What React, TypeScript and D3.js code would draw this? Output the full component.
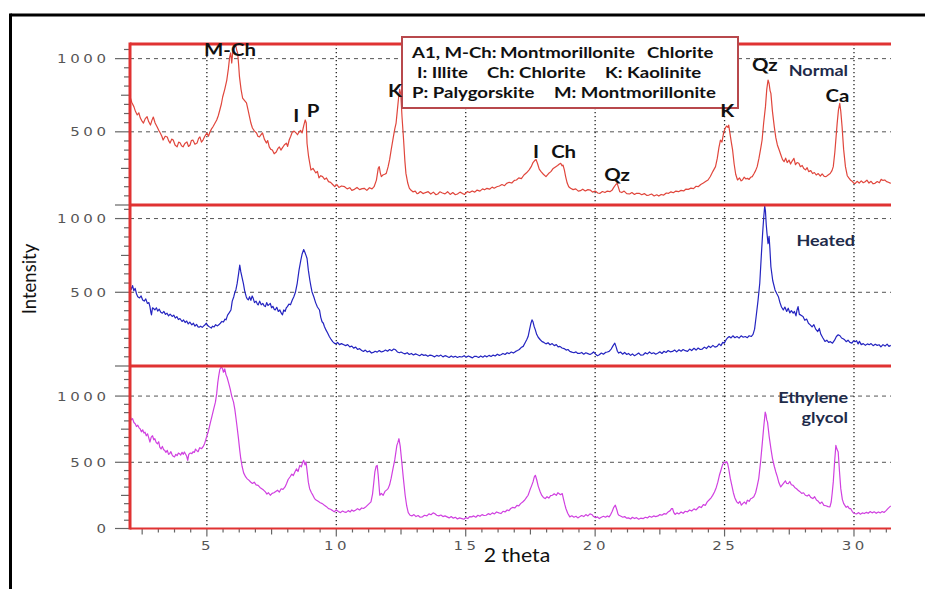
import React from 'react';
import * as d3 from 'd3';

const W = 925;
const H = 589;

// 2-theta range shown on the x axis
const thetaRange: [number, number] = [2.03, 31.43];
const thetaTicks = [5, 10, 15, 20, 25, 30];

// [2 theta, intensity]
const normal: [number, number][] = [
  [2.03, 740], [2.1, 700], [2.18, 672], [2.24, 640], [2.31, 615], [2.37, 630], [2.43, 594], [2.49, 575], [2.55, 560], [2.62, 590],
  [2.69, 603], [2.75, 570], [2.82, 546], [2.88, 580], [2.93, 601], [3.0, 560], [3.08, 533], [3.14, 510], [3.2, 492], [3.26, 470],
  [3.31, 444], [3.39, 470], [3.47, 465], [3.52, 440], [3.58, 423], [3.64, 450], [3.7, 444], [3.77, 410], [3.85, 397], [3.91, 430],
  [3.97, 423], [4.02, 405], [4.08, 397], [4.15, 420], [4.23, 431], [4.29, 400], [4.35, 410], [4.4, 440], [4.46, 444], [4.54, 415],
  [4.62, 423], [4.68, 455], [4.73, 465], [4.79, 430], [4.85, 444], [4.92, 470], [5.0, 492], [5.06, 470], [5.12, 499], [5.18, 520],
  [5.23, 533], [5.3, 555], [5.38, 581], [5.44, 610], [5.5, 649], [5.56, 690], [5.61, 738], [5.69, 790], [5.77, 854], [5.83, 930],
  [5.88, 1011], [5.92, 1040], [5.96, 970], [6.0, 1045], [6.04, 1090], [6.07, 1080], [6.11, 1095], [6.15, 1059], [6.19, 1038], [6.23, 950],
  [6.26, 875], [6.32, 790], [6.38, 731], [6.45, 715], [6.53, 697], [6.59, 650], [6.65, 601], [6.7, 560], [6.76, 526], [6.84, 505],
  [6.92, 492], [6.97, 470], [7.03, 465], [7.09, 480], [7.15, 492], [7.22, 450], [7.3, 423], [7.35, 440], [7.41, 397], [7.47, 380],
  [7.53, 376], [7.6, 350], [7.68, 362], [7.74, 385], [7.8, 397], [7.86, 375], [7.91, 389], [7.99, 410], [8.07, 423], [8.12, 400],
  [8.18, 444], [8.24, 470], [8.3, 499], [8.37, 505], [8.45, 492], [8.5, 480], [8.56, 499], [8.62, 510], [8.68, 492], [8.74, 540],
  [8.8, 581], [8.84, 560], [8.87, 420], [8.93, 330], [9.02, 239], [9.1, 250], [9.21, 219], [9.27, 230], [9.33, 185], [9.4, 200],
  [9.47, 194], [9.55, 175], [9.62, 185], [9.7, 160], [9.78, 155], [9.86, 140], [9.94, 125], [10.02, 140], [10.1, 120], [10.2, 130],
  [10.32, 125], [10.42, 110], [10.52, 118], [10.6, 100], [10.7, 107], [10.8, 120], [10.9, 105], [11.0, 112], [11.08, 114], [11.18, 100],
  [11.28, 118], [11.38, 110], [11.46, 125], [11.55, 170], [11.62, 250], [11.66, 262], [11.7, 220], [11.74, 194], [11.8, 205], [11.87, 210],
  [11.93, 216], [12.0, 260], [12.06, 310], [12.12, 376], [12.2, 460], [12.26, 520], [12.31, 560], [12.36, 650], [12.41, 740], [12.45, 790],
  [12.49, 760], [12.54, 600], [12.6, 444], [12.65, 300], [12.69, 216], [12.76, 150], [12.82, 115], [12.88, 102], [12.96, 90], [13.05, 95],
  [13.12, 78], [13.17, 80], [13.25, 92], [13.35, 78], [13.45, 85], [13.55, 91], [13.65, 75], [13.75, 88], [13.85, 70], [13.92, 75],
  [14.0, 90], [14.1, 82], [14.2, 76], [14.3, 91], [14.4, 72], [14.5, 85], [14.6, 70], [14.68, 75], [14.78, 88], [14.88, 78],
  [14.96, 72], [15.06, 91], [15.15, 85], [15.25, 96], [15.35, 88], [15.44, 102], [15.55, 95], [15.65, 110], [15.73, 104], [15.82, 114],
  [15.92, 108], [16.02, 122], [16.1, 115], [16.2, 125], [16.3, 130], [16.4, 140], [16.5, 132], [16.58, 148], [16.68, 155], [16.78, 150],
  [16.88, 168], [16.96, 171], [17.05, 185], [17.15, 180], [17.25, 205], [17.35, 220], [17.45, 240], [17.53, 262], [17.6, 290], [17.67, 305],
  [17.72, 310], [17.78, 280], [17.84, 245], [17.91, 228], [18.0, 210], [18.1, 194], [18.2, 215], [18.29, 228], [18.38, 250], [18.48, 262],
  [18.55, 270], [18.62, 280], [18.67, 285], [18.72, 268], [18.76, 273], [18.81, 240], [18.86, 194], [18.92, 150], [18.98, 125], [19.05, 114],
  [19.15, 105], [19.25, 110], [19.35, 95], [19.43, 98], [19.52, 108], [19.62, 96], [19.72, 105], [19.81, 102], [19.9, 88], [20.0, 95],
  [20.1, 82], [20.19, 80], [20.28, 92], [20.38, 85], [20.47, 95], [20.57, 91], [20.65, 100], [20.72, 120], [20.8, 140], [20.85, 148],
  [20.9, 120], [20.95, 91], [21.03, 85], [21.12, 95], [21.22, 78], [21.33, 75], [21.42, 85], [21.52, 72], [21.6, 80], [21.7, 80],
  [21.8, 70], [21.9, 78], [22.0, 65], [22.08, 68], [22.18, 75], [22.28, 62], [22.38, 70], [22.46, 61], [22.55, 72], [22.65, 68],
  [22.75, 82], [22.84, 80], [22.93, 90], [23.02, 84], [23.12, 95], [23.22, 91], [23.32, 100], [23.42, 96], [23.5, 108], [23.6, 107],
  [23.7, 115], [23.8, 112], [23.9, 128], [23.98, 125], [24.08, 140], [24.18, 150], [24.28, 162], [24.36, 171], [24.45, 195], [24.55, 230],
  [24.65, 262], [24.72, 320], [24.78, 390], [24.84, 444], [24.9, 430], [24.96, 490], [25.02, 524], [25.08, 540], [25.13, 530], [25.16, 546],
  [25.2, 500], [25.26, 430], [25.31, 376], [25.37, 280], [25.43, 210], [25.5, 171], [25.58, 185], [25.64, 165], [25.69, 171], [25.76, 190],
  [25.82, 178], [25.88, 182], [25.95, 175], [26.01, 190], [26.07, 194], [26.14, 215], [26.2, 235], [26.26, 262], [26.33, 320], [26.4, 390],
  [26.45, 444], [26.51, 560], [26.58, 672], [26.63, 790], [26.68, 854], [26.72, 830], [26.76, 780], [26.79, 763], [26.85, 640], [26.92, 535],
  [26.98, 460], [27.04, 410], [27.11, 376], [27.18, 340], [27.24, 310], [27.3, 296], [27.36, 320], [27.42, 290], [27.49, 307], [27.55, 280],
  [27.61, 300], [27.68, 319], [27.74, 275], [27.8, 290], [27.87, 285], [27.93, 262], [28.0, 270], [28.06, 250], [28.13, 240], [28.19, 255],
  [28.25, 228], [28.33, 235], [28.4, 215], [28.47, 222], [28.54, 205], [28.62, 215], [28.7, 198], [28.77, 212], [28.85, 195], [28.92, 194],
  [29.0, 205], [29.08, 215], [29.15, 235], [29.2, 262], [29.26, 360], [29.31, 470], [29.35, 558], [29.4, 650], [29.45, 694], [29.49, 640],
  [29.54, 535], [29.6, 380], [29.67, 262], [29.74, 200], [29.8, 185], [29.86, 171], [29.94, 160], [30.0, 148], [30.05, 148], [30.12, 162],
  [30.2, 150], [30.28, 165], [30.36, 152], [30.43, 159], [30.5, 170], [30.58, 150], [30.66, 162], [30.74, 145], [30.81, 148], [30.9, 160],
  [30.98, 152], [31.05, 175], [31.12, 168], [31.19, 171], [31.26, 160], [31.33, 155], [31.42, 148],
];

const heated: [number, number][] = [
  [2.03, 549], [2.08, 520], [2.13, 545], [2.18, 510], [2.23, 527], [2.28, 490], [2.33, 470], [2.4, 462], [2.46, 475], [2.52, 448],
  [2.58, 440], [2.64, 455], [2.7, 425], [2.76, 430], [2.8, 403], [2.84, 360], [2.86, 347], [2.9, 395], [2.94, 390], [2.99, 380],
  [3.05, 395], [3.1, 372], [3.16, 385], [3.22, 365], [3.28, 358], [3.34, 370], [3.4, 350], [3.46, 358], [3.52, 340], [3.58, 352],
  [3.66, 336], [3.72, 345], [3.78, 325], [3.84, 335], [3.9, 315], [3.96, 322], [4.04, 302], [4.1, 312], [4.16, 295], [4.22, 305],
  [4.28, 285], [4.34, 298], [4.42, 279], [4.48, 290], [4.54, 270], [4.6, 282], [4.66, 265], [4.7, 263], [4.76, 270], [4.82, 262],
  [4.88, 272], [4.93, 280], [4.98, 290], [5.03, 275], [5.08, 268], [5.13, 262], [5.17, 257], [5.22, 270], [5.28, 265], [5.34, 280],
  [5.4, 272], [5.46, 279], [5.52, 290], [5.58, 302], [5.64, 298], [5.7, 318], [5.74, 313], [5.8, 345], [5.86, 360], [5.93, 380],
  [5.98, 440], [6.04, 470], [6.08, 500], [6.12, 516], [6.17, 560], [6.22, 620], [6.27, 684], [6.31, 640], [6.36, 600], [6.41, 561],
  [6.46, 510], [6.52, 470], [6.56, 455], [6.6, 448], [6.65, 470], [6.7, 445], [6.75, 475], [6.79, 459], [6.84, 430], [6.9, 440],
  [6.95, 420], [6.98, 414], [7.04, 440], [7.1, 415], [7.16, 425], [7.21, 408], [7.26, 403], [7.31, 430], [7.36, 410], [7.41, 418],
  [7.45, 425], [7.5, 395], [7.55, 405], [7.6, 385], [7.64, 380], [7.7, 398], [7.76, 370], [7.82, 380], [7.87, 360], [7.92, 347],
  [7.97, 380], [8.02, 370], [8.07, 395], [8.11, 403], [8.17, 420], [8.23, 415], [8.3, 448], [8.36, 470], [8.42, 500], [8.49, 561],
  [8.56, 650], [8.63, 718], [8.68, 760], [8.74, 790], [8.79, 770], [8.84, 745], [8.87, 729], [8.92, 650], [8.98, 580], [9.02, 540],
  [9.06, 504], [9.13, 470], [9.2, 430], [9.27, 400], [9.35, 380], [9.4, 330], [9.45, 300], [9.5, 290], [9.54, 268], [9.6, 245],
  [9.66, 225], [9.73, 200], [9.8, 180], [9.86, 165], [9.92, 155], [9.98, 150], [10.05, 160], [10.12, 145], [10.2, 152], [10.29, 144],
  [10.36, 138], [10.44, 145], [10.52, 130], [10.6, 135], [10.67, 121], [10.75, 128], [10.82, 112], [10.9, 118], [10.98, 105], [11.05, 99],
  [11.12, 108], [11.2, 95], [11.28, 102], [11.36, 88], [11.43, 92], [11.5, 100], [11.58, 94], [11.66, 105], [11.74, 95], [11.81, 99],
  [11.9, 108], [11.98, 100], [12.06, 112], [12.14, 104], [12.22, 115], [12.29, 110], [12.36, 95], [12.44, 90], [12.5, 95], [12.57, 88],
  [12.65, 82], [12.74, 90], [12.82, 78], [12.9, 85], [12.98, 75], [13.06, 82], [13.14, 76], [13.22, 70], [13.3, 80], [13.38, 72],
  [13.46, 75], [13.54, 66], [13.62, 74], [13.71, 70], [13.8, 62], [13.88, 72], [13.96, 66], [14.04, 74], [14.12, 62], [14.2, 70],
  [14.28, 65], [14.36, 58], [14.44, 68], [14.52, 60], [14.6, 66], [14.68, 58], [14.76, 64], [14.85, 61], [14.94, 70], [15.02, 60],
  [15.1, 68], [15.18, 62], [15.26, 55], [15.34, 66], [15.42, 65], [15.5, 58], [15.58, 68], [15.66, 60], [15.74, 70], [15.82, 62],
  [15.9, 72], [15.98, 65], [16.06, 74], [16.14, 68], [16.22, 80], [16.3, 72], [16.36, 76], [16.44, 85], [16.52, 78], [16.6, 90],
  [16.68, 84], [16.76, 95], [16.84, 88], [16.93, 99], [17.0, 105], [17.07, 112], [17.14, 125], [17.22, 133], [17.3, 160], [17.36, 180],
  [17.41, 200], [17.47, 250], [17.52, 290], [17.56, 313], [17.6, 300], [17.64, 270], [17.69, 245], [17.74, 215], [17.8, 195], [17.88, 178],
  [17.95, 165], [18.02, 160], [18.1, 150], [18.18, 158], [18.26, 144], [18.34, 152], [18.42, 138], [18.5, 145], [18.57, 130], [18.64, 133],
  [18.72, 122], [18.8, 118], [18.88, 108], [18.95, 112], [19.02, 99], [19.1, 94], [19.18, 90], [19.26, 96], [19.33, 85], [19.4, 85],
  [19.48, 92], [19.56, 80], [19.64, 90], [19.72, 84], [19.8, 78], [19.87, 85], [19.94, 95], [20.02, 80], [20.09, 70], [20.16, 76],
  [20.24, 88], [20.32, 80], [20.4, 92], [20.47, 95], [20.54, 99], [20.62, 115], [20.7, 140], [20.76, 155], [20.81, 130], [20.86, 100],
  [20.91, 88], [20.98, 95], [21.06, 80], [21.14, 92], [21.22, 78], [21.29, 85], [21.37, 72], [21.44, 82], [21.52, 70], [21.6, 78],
  [21.68, 88], [21.76, 74], [21.86, 76], [21.94, 90], [22.02, 82], [22.1, 95], [22.18, 84], [22.26, 90], [22.34, 80], [22.43, 88],
  [22.5, 96], [22.58, 85], [22.66, 100], [22.74, 92], [22.82, 105], [22.9, 96], [22.99, 99], [23.07, 108], [23.15, 96], [23.24, 110],
  [23.32, 100], [23.4, 112], [23.48, 104], [23.57, 99], [23.65, 115], [23.73, 105], [23.82, 120], [23.9, 108], [23.98, 122], [24.06, 112],
  [24.14, 115], [24.22, 128], [24.3, 118], [24.38, 135], [24.46, 125], [24.55, 140], [24.63, 128], [24.71, 133], [24.79, 150], [24.86, 138],
  [24.93, 160], [24.99, 155], [25.05, 175], [25.11, 190], [25.18, 200], [25.25, 190], [25.32, 205], [25.4, 192], [25.48, 200], [25.56, 189],
  [25.64, 205], [25.72, 195], [25.8, 200], [25.88, 192], [25.95, 205], [26.03, 200], [26.1, 215], [26.16, 250], [26.22, 336], [26.29, 440],
  [26.36, 561], [26.42, 750], [26.47, 898], [26.51, 1000], [26.55, 1085], [26.58, 1050], [26.61, 960], [26.64, 898], [26.68, 830], [26.72, 880],
  [26.75, 800], [26.79, 673], [26.86, 580], [26.95, 516], [27.02, 490], [27.08, 470], [27.14, 430], [27.2, 400], [27.27, 380], [27.33, 400],
  [27.4, 370], [27.46, 392], [27.52, 360], [27.58, 375], [27.65, 358], [27.7, 370], [27.76, 340], [27.8, 380], [27.84, 403], [27.89, 350],
  [27.95, 345], [28.03, 336], [28.1, 310], [28.17, 318], [28.24, 290], [28.31, 279], [28.38, 265], [28.45, 280], [28.52, 250], [28.6, 234],
  [28.66, 255], [28.72, 215], [28.8, 190], [28.88, 167], [28.95, 175], [29.02, 160], [29.09, 165], [29.17, 155], [29.25, 175], [29.32, 200],
  [29.39, 212], [29.46, 205], [29.52, 190], [29.58, 185], [29.64, 178], [29.7, 165], [29.77, 175], [29.84, 160], [29.92, 155], [29.98, 170],
  [30.04, 165], [30.1, 172], [30.16, 150], [30.21, 167], [30.28, 145], [30.36, 152], [30.44, 140], [30.52, 150], [30.59, 144], [30.66, 152],
  [30.74, 138], [30.82, 148], [30.9, 140], [30.97, 144], [31.04, 130], [31.12, 145], [31.2, 135], [31.28, 148], [31.35, 133], [31.42, 140],
];

const glycol: [number, number][] = [
  [2.03, 854], [2.08, 820], [2.13, 830], [2.18, 800], [2.23, 791], [2.28, 770], [2.33, 780], [2.38, 760], [2.42, 753], [2.47, 730],
  [2.52, 745], [2.57, 720], [2.61, 728], [2.66, 700], [2.71, 715], [2.76, 680], [2.8, 653], [2.85, 690], [2.9, 700], [2.95, 670],
  [2.99, 678], [3.04, 650], [3.09, 640], [3.14, 655], [3.18, 615], [3.23, 600], [3.28, 620], [3.33, 595], [3.37, 590], [3.42, 575],
  [3.47, 590], [3.52, 560], [3.56, 565], [3.61, 580], [3.66, 555], [3.7, 545], [3.75, 540], [3.8, 560], [3.85, 550], [3.9, 570],
  [3.94, 565], [3.99, 555], [4.04, 575], [4.09, 560], [4.13, 578], [4.18, 560], [4.22, 545], [4.26, 515], [4.3, 560], [4.36, 570],
  [4.42, 565], [4.47, 580], [4.52, 575], [4.56, 600], [4.6, 590], [4.66, 580], [4.72, 610], [4.8, 603], [4.86, 620], [4.91, 640],
  [4.95, 665], [5.0, 700], [5.05, 730], [5.1, 770], [5.14, 803], [5.2, 850], [5.26, 900], [5.33, 954], [5.38, 1020], [5.42, 1100],
  [5.46, 1155], [5.5, 1200], [5.55, 1218], [5.6, 1210], [5.64, 1180], [5.69, 1205], [5.74, 1160], [5.78, 1142], [5.84, 1100], [5.9, 1054],
  [5.96, 1000], [6.03, 954], [6.08, 900], [6.12, 840], [6.16, 778], [6.22, 680], [6.27, 590], [6.31, 527], [6.36, 470], [6.42, 420],
  [6.5, 389], [6.56, 375], [6.62, 365], [6.69, 351], [6.76, 340], [6.83, 350], [6.9, 330], [6.98, 326], [7.05, 310], [7.12, 300],
  [7.19, 290], [7.26, 276], [7.32, 260], [7.38, 270], [7.45, 251], [7.52, 265], [7.59, 270], [7.66, 280], [7.73, 289], [7.8, 275],
  [7.87, 300], [7.94, 295], [8.02, 314], [8.08, 340], [8.14, 370], [8.21, 389], [8.28, 410], [8.34, 400], [8.4, 427], [8.46, 450],
  [8.52, 430], [8.59, 477], [8.65, 465], [8.7, 500], [8.74, 515], [8.79, 480], [8.83, 502], [8.88, 420], [8.92, 350], [8.97, 301],
  [9.04, 270], [9.1, 250], [9.16, 226], [9.22, 215], [9.3, 205], [9.38, 195], [9.46, 188], [9.54, 176], [9.62, 165], [9.7, 150],
  [9.78, 145], [9.86, 135], [9.92, 126], [10.0, 140], [10.08, 128], [10.16, 120], [10.24, 132], [10.3, 126], [10.38, 122], [10.46, 135],
  [10.54, 125], [10.6, 140], [10.67, 131], [10.74, 138], [10.82, 150], [10.9, 140], [10.98, 155], [11.05, 151], [11.12, 160], [11.2, 175],
  [11.28, 190], [11.34, 201], [11.4, 260], [11.45, 350], [11.49, 427], [11.54, 470], [11.58, 477], [11.62, 400], [11.66, 300], [11.68, 251],
  [11.74, 265], [11.81, 251], [11.88, 280], [11.94, 290], [12.0, 301], [12.06, 330], [12.12, 380], [12.19, 452], [12.26, 520], [12.34, 628],
  [12.38, 650], [12.42, 678], [12.47, 620], [12.53, 502], [12.59, 380], [12.66, 251], [12.72, 170], [12.78, 120], [12.85, 100], [12.92, 95],
  [13.0, 105], [13.08, 90], [13.16, 98], [13.24, 85], [13.33, 88], [13.41, 100], [13.5, 95], [13.58, 110], [13.66, 104], [13.74, 118],
  [13.8, 113], [13.88, 100], [13.96, 95], [14.04, 102], [14.12, 90], [14.2, 95], [14.28, 88], [14.36, 80], [14.44, 90], [14.52, 78],
  [14.6, 85], [14.68, 72], [14.76, 80], [14.85, 75], [14.93, 70], [15.0, 82], [15.08, 75], [15.15, 90], [15.23, 88], [15.31, 95],
  [15.39, 85], [15.47, 100], [15.55, 92], [15.63, 105], [15.71, 98], [15.79, 100], [15.87, 112], [15.95, 105], [16.03, 118], [16.11, 110],
  [16.19, 125], [16.28, 118], [16.36, 113], [16.44, 130], [16.52, 125], [16.6, 140], [16.67, 135], [16.74, 151], [16.82, 160], [16.9, 155],
  [16.98, 175], [17.05, 170], [17.12, 188], [17.2, 200], [17.28, 215], [17.35, 235], [17.41, 251], [17.48, 290], [17.54, 320], [17.6, 352],
  [17.65, 390], [17.69, 402], [17.74, 370], [17.8, 320], [17.88, 276], [17.94, 250], [18.0, 235], [18.07, 226], [18.14, 240], [18.21, 230],
  [18.28, 248], [18.35, 251], [18.42, 262], [18.5, 250], [18.56, 270], [18.6, 264], [18.66, 255], [18.73, 264], [18.78, 220], [18.83, 180],
  [18.87, 151], [18.94, 115], [19.02, 88], [19.1, 96], [19.18, 85], [19.26, 92], [19.33, 80], [19.4, 88], [19.48, 98], [19.56, 90],
  [19.64, 105], [19.72, 95], [19.8, 110], [19.87, 106], [19.94, 90], [20.02, 82], [20.09, 88], [20.16, 75], [20.24, 85], [20.32, 92],
  [20.4, 85], [20.47, 95], [20.54, 88], [20.6, 105], [20.66, 130], [20.72, 160], [20.78, 176], [20.84, 140], [20.88, 110], [20.92, 100],
  [21.0, 92], [21.07, 85], [21.14, 90], [21.22, 78], [21.29, 80], [21.37, 72], [21.44, 85], [21.52, 75], [21.6, 82], [21.68, 70],
  [21.76, 78], [21.86, 75], [21.94, 85], [22.02, 80], [22.1, 92], [22.18, 85], [22.26, 95], [22.34, 90], [22.43, 95], [22.5, 105],
  [22.58, 100], [22.66, 112], [22.74, 108], [22.82, 125], [22.9, 135], [22.95, 150], [22.99, 151], [23.04, 120], [23.09, 106], [23.16, 118],
  [23.24, 110], [23.32, 125], [23.4, 115], [23.48, 130], [23.57, 126], [23.65, 140], [23.73, 132], [23.82, 148], [23.9, 140], [23.95, 151],
  [24.02, 165], [24.1, 158], [24.18, 180], [24.26, 175], [24.33, 201], [24.4, 215], [24.47, 230], [24.54, 250], [24.61, 276], [24.68, 310],
  [24.74, 350], [24.8, 402], [24.86, 440], [24.92, 480], [24.99, 502], [25.04, 495], [25.08, 505], [25.12, 490], [25.17, 440], [25.22, 380],
  [25.28, 326], [25.34, 270], [25.4, 230], [25.47, 201], [25.53, 190], [25.59, 205], [25.65, 176], [25.71, 190], [25.77, 200], [25.83, 185],
  [25.88, 214], [25.95, 205], [26.01, 225], [26.07, 230], [26.13, 239], [26.2, 270], [26.26, 320], [26.32, 377], [26.39, 500], [26.45, 628],
  [26.51, 760], [26.57, 879], [26.6, 860], [26.63, 820], [26.66, 803], [26.72, 700], [26.79, 603], [26.85, 530], [26.92, 470], [26.98, 427],
  [27.04, 390], [27.1, 345], [27.17, 314], [27.23, 330], [27.29, 345], [27.35, 360], [27.4, 340], [27.46, 339], [27.52, 355], [27.58, 330],
  [27.65, 326], [27.71, 310], [27.78, 300], [27.84, 289], [27.9, 280], [27.98, 265], [28.05, 270], [28.12, 251], [28.19, 245], [28.26, 255],
  [28.33, 235], [28.41, 226], [28.48, 240], [28.55, 215], [28.62, 205], [28.69, 188], [28.76, 200], [28.84, 175], [28.92, 172], [29.0, 165],
  [29.07, 163], [29.12, 200], [29.16, 270], [29.2, 352], [29.25, 500], [29.3, 628], [29.34, 600], [29.39, 578], [29.44, 430], [29.49, 301],
  [29.55, 220], [29.6, 190], [29.64, 176], [29.7, 160], [29.76, 168], [29.82, 150], [29.87, 151], [29.93, 130], [29.98, 118], [30.02, 113],
  [30.1, 110], [30.18, 120], [30.25, 108], [30.32, 118], [30.4, 113], [30.48, 122], [30.55, 115], [30.63, 128], [30.7, 118], [30.78, 126],
  [30.86, 115], [30.94, 125], [31.02, 118], [31.09, 128], [31.16, 121], [31.24, 135], [31.31, 150], [31.38, 163], [31.42, 170],
];

const seriesColors = ['#e0463c', '#2424c0', '#d040e0'];
const panelMax = [1100, 1092, 1227];
const panelLabels: [string, boolean][] = [['0', false], ['500', true], ['1000', true]];

// peak annotations on the top (Normal) trace: [text, 2theta, intensity]
const peakLabels: [string, number, number][] = [
  ['M-Ch', 4.89, 1018], ['I', 8.34, 567], ['P', 8.86, 601], ['K', 12.0, 738],
  ['I', 17.6, 321], ['Ch', 18.3, 321], ['Qz', 20.35, 164], ['K', 24.83, 601],
  ['Qz', 26.06, 916], ['Ca', 28.9, 704],
];

// series names, right aligned: [panel, line, 2theta, intensity]
const seriesNames: [number, string, number, number][] = [
  [0, 'Normal', 29.77, 881],
  [1, 'Heated', 30.04, 813],
  [2, 'Ethylene', 29.77, 948],
  [2, 'glycol', 29.77, 797],
];

const legendLines: [string, number][][] = [
  [['A1, M-Ch:', 10], ['Montmorillonite', 98], ['Chlorite', 245]],
  [['I: Illite', 15], ['Ch: Chlorite', 85], ['K: Kaolinite', 203]],
  [['P: Palygorskite', 10], ['M: Montmorillonite', 152]],
];

// the source picture is stretched sideways; text follows it
const SX = 1.2;

function SText({ x, y, anchor = 'start', sx = SX, children, ...rest }: any) {
  return (
    <g transform={`translate(${x},${y}) scale(${sx},1)`}>
      <text x={0} y={0} textAnchor={anchor} {...rest}>{children}</text>
    </g>
  );
}

export default function App() {
  const left = 130;
  const right = 891;
  const tops = [44, 205, 366];
  const bottoms = [205, 366, 528.5];

  const x = d3.scaleLinear().domain(thetaRange).range([left, right]);
  const ys = panelMax.map((m, i) => d3.scaleLinear().domain([0, m]).range([bottoms[i], tops[i]]));
  const data = [normal, heated, glycol];

  const minorX = d3.range(2.5, 31.4, 0.625);
  const tickFont = "'DejaVu Sans', sans-serif";
  const boldFont = "Lato, 'Open Sans', sans-serif";

  return (
    <svg width={W} height={H} style={{ display: 'block', position: 'absolute', left: 0, top: 0 }}>
      <rect x={0} y={0} width={W} height={H} fill="#fff" />
      <defs>
        {tops.map((t, i) => (
          <clipPath id={`clip${i}`} key={i}>
            <rect x={left} y={t} width={right - left} height={bottoms[i] - t} />
          </clipPath>
        ))}
      </defs>

      {/* outer frame */}
      <line x1={10.5} y1={15} x2={W} y2={15} stroke="#000" strokeWidth={3} />
      <line x1={10.5} y1={13.5} x2={10.5} y2={H} stroke="#000" strokeWidth={3} />

      {/* horizontal dashed grid */}
      {ys.map((y, i) =>
        [500, 1000].map(v => (
          <line key={`h${i}${v}`} x1={left} x2={right} y1={y(v)} y2={y(v)}
            stroke="#555" strokeWidth={1} strokeDasharray="4 4" />
        ))
      )}
      {/* vertical dotted grid */}
      {thetaTicks.map(t => (
        <line key={`v${t}`} x1={x(t)} x2={x(t)} y1={tops[0]} y2={bottoms[2]}
          stroke="#222" strokeWidth={1.3} strokeDasharray="1.3 2.7" />
      ))}

      {/* traces */}
      {data.map((d, i) => {
        const line = d3.line<[number, number]>().x(p => x(p[0])).y(p => ys[i](p[1]));
        return (
          <path key={`s${i}`} d={line(d) || ''} fill="none" stroke={seriesColors[i]}
            strokeWidth={1.2} strokeLinejoin="round" clipPath={`url(#clip${i})`} />
        );
      })}

      {/* y ticks */}
      {ys.map((y, i) =>
        d3.range(0, panelMax[i] - 20, 62.5).map(v => {
          const len = v % 500 === 0 ? 15 : v % 250 === 0 ? 9 : 6;
          return (
            <line key={`yt${i}-${v}`} x1={left - len} x2={left} y1={y(v)} y2={y(v)}
              stroke="#666" strokeWidth={1.2} />
          );
        })
      )}
      {ys.map((y, i) =>
        panelLabels
          .filter(([, always]) => always || i === 2)
          .map(([s]) => (
            <SText key={`yl${i}${s}`} x={109.6} y={y(+s) + 4.5} anchor="end"
              fontFamily={tickFont} fontSize={12.5} letterSpacing={3} fill="#555">{s}</SText>
          ))
      )}

      {/* x ticks */}
      {minorX.map(t => {
        const major = Math.abs(t % 5) < 1e-6;
        const mid = Math.abs(t % 2.5) < 1e-6;
        const len = major ? 8 : mid ? 6 : 4;
        return (
          <line key={`xt${t}`} x1={x(t)} x2={x(t)} y1={bottoms[2]} y2={bottoms[2] + len}
            stroke="#666" strokeWidth={1.2} />
        );
      })}
      {thetaTicks.map(t => (
        <SText key={`xl${t}`} x={x(t) + 0.8} y={550} anchor="middle"
          fontFamily={tickFont} fontSize={12.5} letterSpacing={3} fill="#555">{t}</SText>
      ))}

      {/* red panel frame */}
      {tops.map(t => (
        <line key={`r${t}`} x1={left} x2={right} y1={t} y2={t} stroke="#e03232" strokeWidth={3} />
      ))}
      <line x1={left} x2={right} y1={bottoms[2]} y2={bottoms[2]} stroke="#e03232" strokeWidth={2} />
      <line x1={left} x2={left} y1={tops[0] - 1.5} y2={bottoms[2] + 1} stroke="#e03232" strokeWidth={3} />

      {/* legend */}
      <g transform="translate(402,37)">
        <rect x={0} y={0} width={336} height={71} fill="#fff" stroke="#b8484c" strokeWidth={2} />
        {legendLines.map((segs, li) =>
          segs.map(([s, dx]) => (
            <SText key={`lg${li}${s}`} x={dx} y={21 + li * 20} fontFamily={boldFont}
              fontWeight={700} fontSize={15.5} fill="#111">{s}</SText>
          ))
        )}
      </g>

      {/* peak labels */}
      {peakLabels.map(([s, t, v], k) => (
        <SText key={`pk${k}`} x={x(t)} y={ys[0](v)} fontFamily={boldFont} fontWeight={700}
          fontSize={17} fill="#111">{s}</SText>
      ))}
      {seriesNames.map(([p, s, t, v]) => (
        <SText key={`sn${s}`} x={x(t)} y={ys[p](v)} anchor="end" fontFamily={boldFont}
          fontWeight={700} fontSize={15} fill="#1e2b4a">{s}</SText>
      ))}

      {/* axis titles */}
      <text transform="translate(35.5,279) rotate(-90)" textAnchor="middle"
        fontFamily={boldFont} fontSize={18.5} fill="#111">Intensity</text>
      <SText x={517} y={562} anchor="middle" sx={1.15} fontFamily={boldFont} fontSize={18.5}
        fill="#111">2 theta</SText>
    </svg>
  );
}
